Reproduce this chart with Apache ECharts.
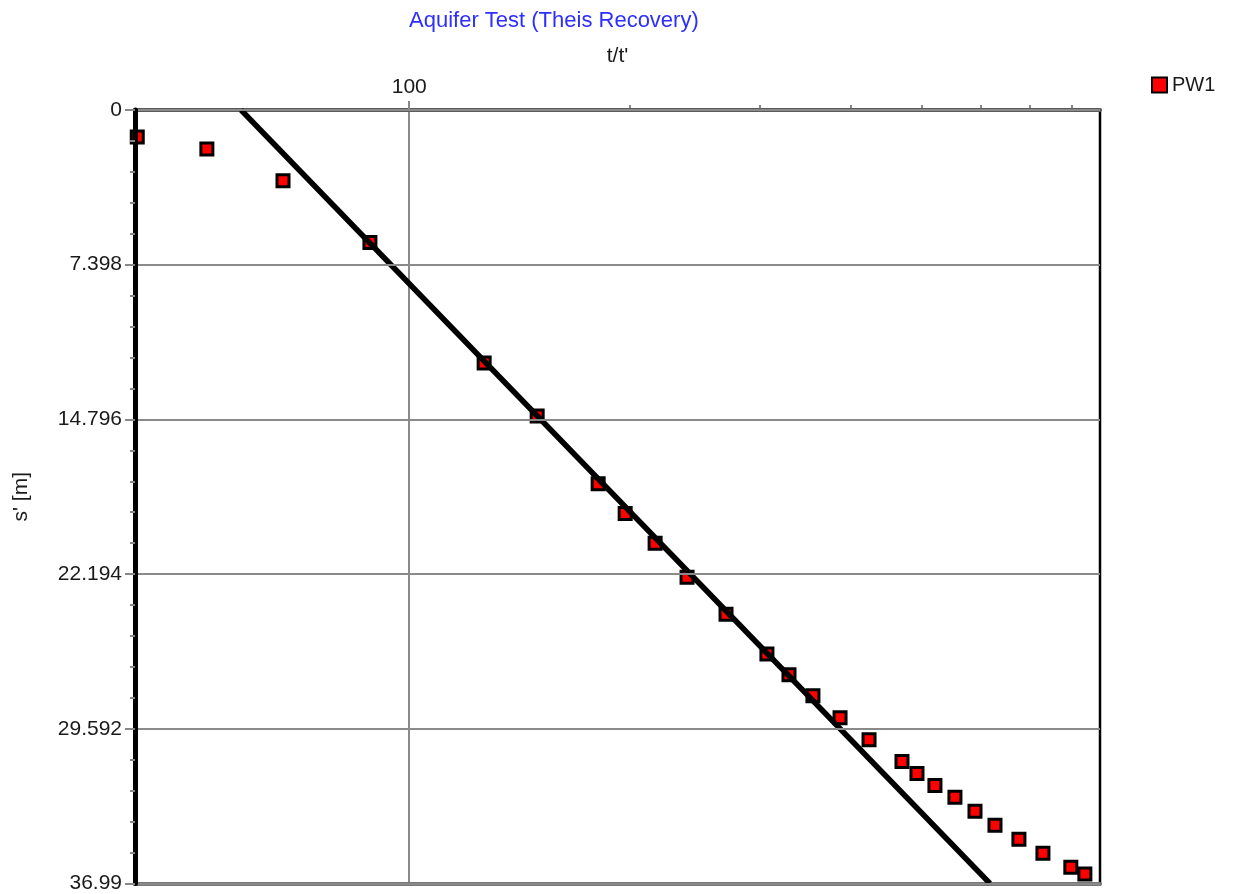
<!DOCTYPE html>
<html>
<head>
<meta charset="utf-8">
<script src="https://cdn.jsdelivr.net/npm/echarts@6/dist/echarts.min.js"></script>
<style>
html,body{margin:0;padding:0;background:#fff;}
#chart{width:1235px;height:894px;}
</style>
</head>
<body>
<div id="chart"></div>
<script>
// t/t' values (log axis) and recovery drawdown s' [m]
const tRatio = [42.6, 53.0, 67.3, 88.4, 126.5, 149.4, 180.9, 196.9, 216.3, 239.1, 270.2, 307.2, 329.2, 354.9, 386.4, 423.2, 469.3, 491.9, 520.4, 554.1, 590.1, 628.3, 677.3, 730.3, 797.1, 833.0, 876.0];
const sPrime = [1.29, 1.86, 3.38, 6.34, 12.10, 14.63, 17.87, 19.30, 20.72, 22.34, 24.11, 26.01, 27.01, 28.01, 29.06, 30.11, 31.16, 31.73, 32.30, 32.87, 33.54, 34.21, 34.87, 35.54, 36.21, 36.54, 37.07];
// fitted Theis recovery straight line (two end points)
const fitT = [59.0, 618.5];
const fitS = [0, 36.99];
// axis settings
const xMin = 42.3, xMax = 873.5;
const xLabelValues = [100];
const xMinorTicks = [200, 300, 400, 500, 600, 700, 800];
const yMin = 0, yMax = 36.99, yStep = 7.398;

const chart = echarts.init(document.getElementById('chart'), null, {renderer: 'canvas'});
const font = 'Liberation Sans, Arial, sans-serif';

const option = {
  animation: false,
  backgroundColor: '#ffffff',
  title: {
    text: 'Aquifer Test (Theis Recovery)',
    left: 404, top: 5,
    textStyle: {color: '#2e2eff', fontSize: 22, fontWeight: 'normal', fontFamily: font}
  },
  legend: {
    left: 1146, top: 70,
    itemWidth: 15, itemHeight: 15, itemGap: 8,
    data: ['PW1'],
    textStyle: {color: '#1a1a1a', fontSize: 20, fontFamily: font}
  },
  grid: {
    left: 135, right: 135, top: 110, bottom: 8,
    show: true, borderColor: '#000', borderWidth: 2.5, backgroundColor: 'transparent'
  },
  xAxis: [
    {
      type: 'log', logBase: 10, position: 'top', min: xMin, max: xMax,
      name: "t/t'", nameLocation: 'middle', nameGap: 43,
      nameTextStyle: {color: '#1a1a1a', fontSize: 21, fontFamily: font},
      axisLine: {show: true, lineStyle: {color: '#5a5a5a', width: 4}},
      axisTick: {show: true, customValues: xLabelValues, length: 9, lineStyle: {color: '#888', width: 2}},
      axisLabel: {show: true, customValues: xLabelValues, margin: 12, color: '#1a1a1a', fontSize: 21, fontFamily: font,
        formatter: v => String(Math.round(v))},
      splitLine: {show: true, lineStyle: {color: '#8a8a8a', width: 2}},
      z: 3
    },
    {
      type: 'log', logBase: 10, position: 'top', min: xMin, max: xMax,
      axisLine: {show: false},
      axisTick: {show: true, customValues: xMinorTicks, length: 5, lineStyle: {color: '#888', width: 2}},
      axisLabel: {show: false},
      splitLine: {show: false}
    },
    {
      type: 'log', logBase: 10, position: 'bottom', min: xMin, max: xMax,
      axisLine: {show: true, lineStyle: {color: '#777', width: 4}},
      axisTick: {show: false}, axisLabel: {show: false}, splitLine: {show: false},
      z: 3
    }
  ],
  yAxis: [
    {
      type: 'value', inverse: true, min: yMin, max: yMax, interval: yStep,
      name: "s' [m]", nameLocation: 'middle', nameGap: 103, nameRotate: 90,
      nameTextStyle: {color: '#1a1a1a', fontSize: 21, fontWeight: 'normal', fontFamily: font},
      axisLine: {show: true, lineStyle: {color: '#000', width: 5}},
      axisTick: {show: true, length: 10, lineStyle: {color: '#888', width: 2}},
      minorTick: {show: true, splitNumber: 5, length: 5, lineStyle: {color: '#888', width: 2}},
      axisLabel: {margin: 13, color: '#1a1a1a', fontSize: 21, fontFamily: font,
        formatter: v => String(Number(v.toFixed(3)))},
      splitLine: {show: true, lineStyle: {color: '#8a8a8a', width: 2}},
      z: 4
    }
  ],
  series: [
    {
      name: 'PW1', type: 'scatter', xAxisIndex: 0, yAxisIndex: 0,
      symbol: 'rect', symbolSize: 12, clip: true,
      itemStyle: {color: '#ff0000', borderColor: '#000', borderWidth: 3, opacity: 1},
      emphasis: {disabled: true},
      data: tRatio.map((t, i) => [t, sPrime[i]]),
      z: 2
    },
    {
      name: 'fit', type: 'line', xAxisIndex: 0, yAxisIndex: 0,
      showSymbol: false, symbol: 'none', clip: true,
      lineStyle: {color: '#000', width: 5.5},
      data: fitT.map((t, i) => [t, fitS[i]]),
      z: 3
    }
  ]
};
chart.setOption(option);
</script>
</body>
</html>
